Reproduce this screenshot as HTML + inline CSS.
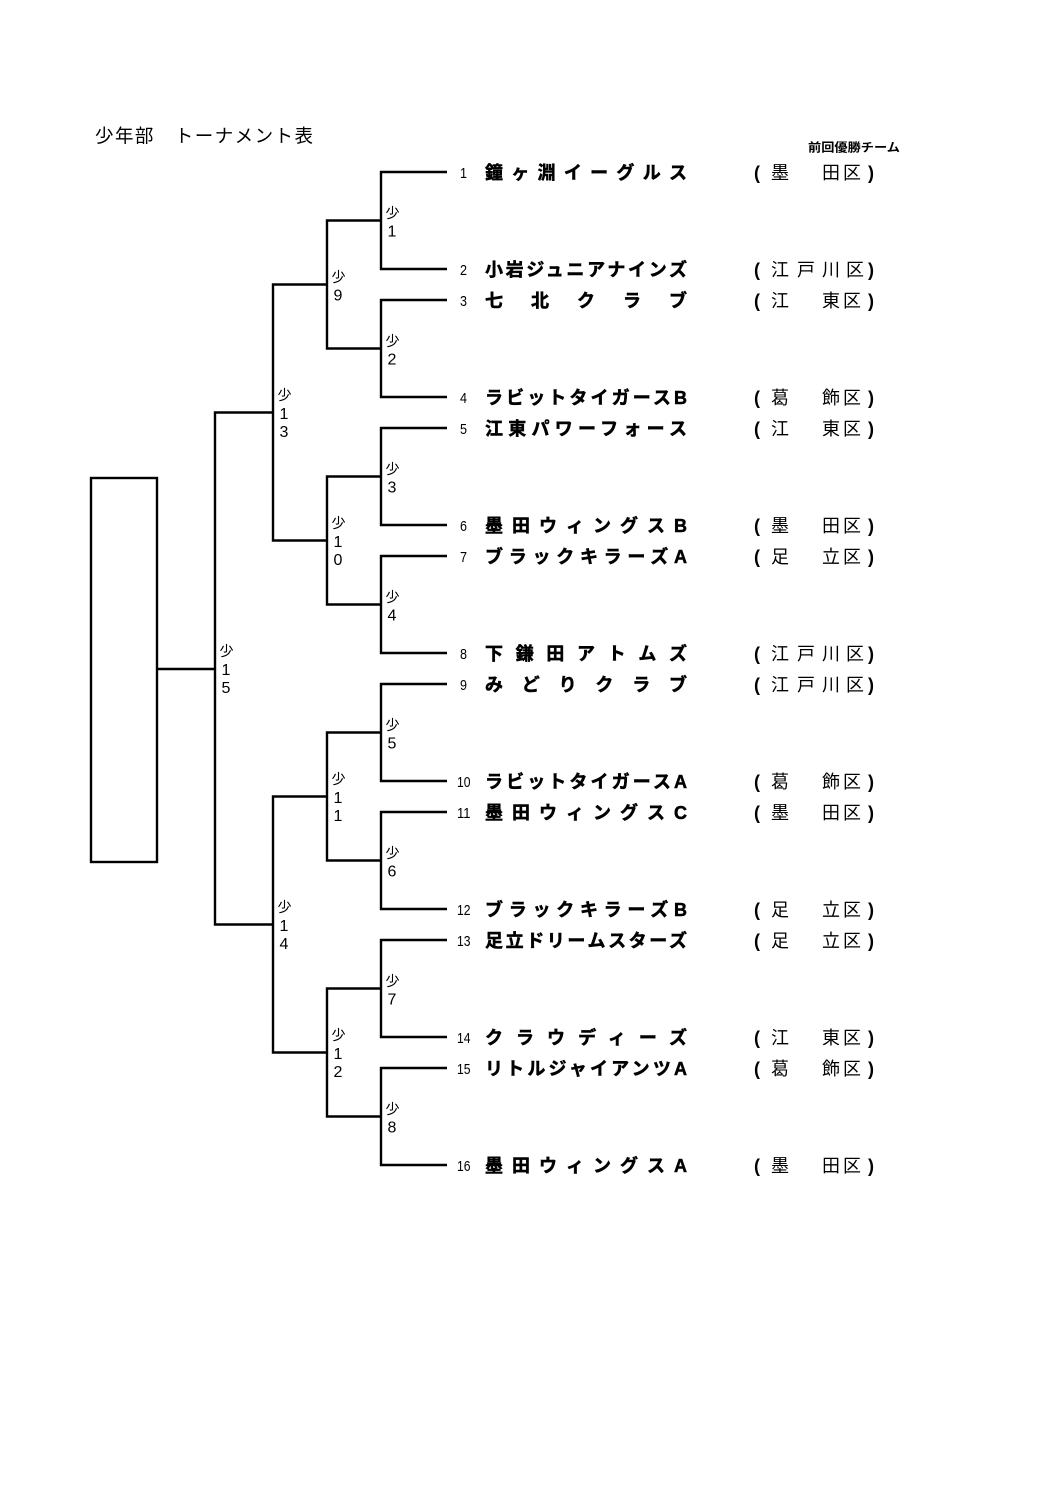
<!DOCTYPE html>
<html>
<head>
<meta charset="utf-8">
<style>
  html,body{margin:0;padding:0;background:#fff;}
  body{width:1058px;height:1497px;overflow:hidden;}
  svg{display:block;}
  .t{font-family:"Liberation Sans","Noto Sans CJK JP",sans-serif;font-size:18.5px;fill:#000;}
  .h{font-family:"Liberation Sans","Noto Sans CJK JP",sans-serif;font-size:12px;font-weight:700;fill:#000;}
  .n{font-family:"Liberation Sans","Noto Sans CJK JP",sans-serif;font-size:18px;font-weight:700;fill:#000;stroke:#000;stroke-width:0.5;}
  .d{font-family:"Liberation Sans","Noto Sans CJK JP",sans-serif;font-size:18px;fill:#000;}
  .d tspan.p{font-weight:700;}
  .num{font-family:"Liberation Sans",sans-serif;font-size:15px;fill:#000;}
  .s{font-family:"Liberation Sans","Noto Sans CJK JP",sans-serif;font-size:14px;fill:#000;text-anchor:middle;}
  .g{font-family:"Liberation Sans",sans-serif;font-size:16px;fill:#000;text-anchor:middle;}
  .ln{fill:none;stroke:#000;stroke-width:2.4;stroke-linejoin:miter;}
</style>
</head>
<body>
<svg width="1058" height="1497" viewBox="0 0 1058 1497" xmlns="http://www.w3.org/2000/svg">
  <rect x="0" y="0" width="1058" height="1497" fill="#fff"/>

  <!-- title -->
  <text class="t" x="95" y="142.5" textLength="218" lengthAdjust="spacing">少年部　トーナメント表</text>
  <text class="h" x="808" y="151.5" textLength="92" lengthAdjust="spacingAndGlyphs">前回優勝チーム</text>

  <!-- bracket lines -->
  <g class="ln">
    <path d="M447 172H381V269H447"/>
    <path d="M447 300H381V397H447"/>
    <path d="M447 428H381V525H447"/>
    <path d="M447 556H381V653H447"/>
    <path d="M447 684H381V781H447"/>
    <path d="M447 812H381V909H447"/>
    <path d="M447 940H381V1037H447"/>
    <path d="M447 1068H381V1165H447"/>

    <path d="M381 220.5H327V348.5H381"/>
    <path d="M381 476.5H327V604.5H381"/>
    <path d="M381 732.5H327V860.5H381"/>
    <path d="M381 988.5H327V1116.5H381"/>

    <path d="M327 284.5H273V540.5H327"/>
    <path d="M327 796.5H273V1052.5H327"/>

    <path d="M273 412.5H215V924.5H273"/>
    <path d="M157 669H215"/>

    <rect x="91" y="478" width="66" height="384"/>
  </g>

  <!-- match labels level 1 -->
  <text class="s" x="392.5" y="218">少</text><text class="g" x="392" y="236.5">1</text>
  <text class="s" x="392.5" y="346">少</text><text class="g" x="392" y="364.5">2</text>
  <text class="s" x="392.5" y="474">少</text><text class="g" x="392" y="492.5">3</text>
  <text class="s" x="392.5" y="602">少</text><text class="g" x="392" y="620.5">4</text>
  <text class="s" x="392.5" y="730">少</text><text class="g" x="392" y="748.5">5</text>
  <text class="s" x="392.5" y="858">少</text><text class="g" x="392" y="876.5">6</text>
  <text class="s" x="392.5" y="986">少</text><text class="g" x="392" y="1004.5">7</text>
  <text class="s" x="392.5" y="1114">少</text><text class="g" x="392" y="1132.5">8</text>

  <!-- level 2 -->
  <text class="s" x="338.5" y="282">少</text><text class="g" x="338" y="300.5">9</text>
  <text class="s" x="338.5" y="528">少</text><text class="g" x="338" y="547.2">1</text><text class="g" x="338" y="565.2">0</text>
  <text class="s" x="338.5" y="784">少</text><text class="g" x="338" y="803.2">1</text><text class="g" x="338" y="821.2">1</text>
  <text class="s" x="338.5" y="1040">少</text><text class="g" x="338" y="1059.2">1</text><text class="g" x="338" y="1077.2">2</text>

  <!-- level 3 -->
  <text class="s" x="284.5" y="400">少</text><text class="g" x="284" y="419.2">1</text><text class="g" x="284" y="437.2">3</text>
  <text class="s" x="284.5" y="912">少</text><text class="g" x="284" y="931.2">1</text><text class="g" x="284" y="949.2">4</text>

  <!-- level 4 -->
  <text class="s" x="226.5" y="656">少</text><text class="g" x="226" y="675.2">1</text><text class="g" x="226" y="693.2">5</text>

  <!-- team numbers -->
  <text class="num" x="460" y="178" textLength="7" lengthAdjust="spacingAndGlyphs">1</text>
  <text class="num" x="460" y="275" textLength="7" lengthAdjust="spacingAndGlyphs">2</text>
  <text class="num" x="460" y="306" textLength="7" lengthAdjust="spacingAndGlyphs">3</text>
  <text class="num" x="460" y="403" textLength="7" lengthAdjust="spacingAndGlyphs">4</text>
  <text class="num" x="460" y="434" textLength="7" lengthAdjust="spacingAndGlyphs">5</text>
  <text class="num" x="460" y="531" textLength="7" lengthAdjust="spacingAndGlyphs">6</text>
  <text class="num" x="460" y="562" textLength="7" lengthAdjust="spacingAndGlyphs">7</text>
  <text class="num" x="460" y="659" textLength="7" lengthAdjust="spacingAndGlyphs">8</text>
  <text class="num" x="460" y="690" textLength="7" lengthAdjust="spacingAndGlyphs">9</text>
  <text class="num" x="457" y="787" textLength="13.5" lengthAdjust="spacingAndGlyphs">10</text>
  <text class="num" x="457" y="818" textLength="13.5" lengthAdjust="spacingAndGlyphs">11</text>
  <text class="num" x="457" y="915" textLength="13.5" lengthAdjust="spacingAndGlyphs">12</text>
  <text class="num" x="457" y="946" textLength="13.5" lengthAdjust="spacingAndGlyphs">13</text>
  <text class="num" x="457" y="1043" textLength="13.5" lengthAdjust="spacingAndGlyphs">14</text>
  <text class="num" x="457" y="1074" textLength="13.5" lengthAdjust="spacingAndGlyphs">15</text>
  <text class="num" x="457" y="1171" textLength="13.5" lengthAdjust="spacingAndGlyphs">16</text>

  <!-- team names -->
  <text class="n" x="485" y="179" textLength="202" lengthAdjust="spacing">鐘ヶ淵イーグルス</text>
  <text class="n" x="485" y="276" textLength="202" lengthAdjust="spacing">小岩ジュニアナインズ</text>
  <text class="n" x="485" y="307" textLength="202" lengthAdjust="spacing">七北クラブ</text>
  <text class="n" x="485" y="404" textLength="202" lengthAdjust="spacing">ラビットタイガースB</text>
  <text class="n" x="485" y="435" textLength="202" lengthAdjust="spacing">江東パワーフォース</text>
  <text class="n" x="485" y="532" textLength="202" lengthAdjust="spacing">墨田ウィングスB</text>
  <text class="n" x="485" y="563" textLength="202" lengthAdjust="spacing">ブラックキラーズA</text>
  <text class="n" x="485" y="660" textLength="202" lengthAdjust="spacing">下鎌田アトムズ</text>
  <text class="n" x="485" y="691" textLength="202" lengthAdjust="spacing">みどりクラブ</text>
  <text class="n" x="485" y="788" textLength="202" lengthAdjust="spacing">ラビットタイガースA</text>
  <text class="n" x="485" y="819" textLength="202" lengthAdjust="spacing">墨田ウィングスC</text>
  <text class="n" x="485" y="916" textLength="202" lengthAdjust="spacing">ブラックキラーズB</text>
  <text class="n" x="485" y="947" textLength="202" lengthAdjust="spacing">足立ドリームスターズ</text>
  <text class="n" x="485" y="1044" textLength="202" lengthAdjust="spacing">クラウディーズ</text>
  <text class="n" x="485" y="1075" textLength="202" lengthAdjust="spacing">リトルジャイアンツA</text>
  <text class="n" x="485" y="1172" textLength="202" lengthAdjust="spacing">墨田ウィングスA</text>

  <!-- districts -->
  <text class="d" y="179"><tspan class="p" x="754">(</tspan><tspan x="771">墨</tspan><tspan x="822">田</tspan><tspan x="843">区</tspan><tspan class="p" x="868">)</tspan></text>
  <text class="d" y="276"><tspan class="p" x="754">(</tspan><tspan x="771">江</tspan><tspan x="797">戸</tspan><tspan x="822">川</tspan><tspan x="846">区</tspan><tspan class="p" x="868">)</tspan></text>
  <text class="d" y="307"><tspan class="p" x="754">(</tspan><tspan x="771">江</tspan><tspan x="822">東</tspan><tspan x="843">区</tspan><tspan class="p" x="868">)</tspan></text>
  <text class="d" y="404"><tspan class="p" x="754">(</tspan><tspan x="771">葛</tspan><tspan x="822">飾</tspan><tspan x="843">区</tspan><tspan class="p" x="868">)</tspan></text>
  <text class="d" y="435"><tspan class="p" x="754">(</tspan><tspan x="771">江</tspan><tspan x="822">東</tspan><tspan x="843">区</tspan><tspan class="p" x="868">)</tspan></text>
  <text class="d" y="532"><tspan class="p" x="754">(</tspan><tspan x="771">墨</tspan><tspan x="822">田</tspan><tspan x="843">区</tspan><tspan class="p" x="868">)</tspan></text>
  <text class="d" y="563"><tspan class="p" x="754">(</tspan><tspan x="771">足</tspan><tspan x="822">立</tspan><tspan x="843">区</tspan><tspan class="p" x="868">)</tspan></text>
  <text class="d" y="660"><tspan class="p" x="754">(</tspan><tspan x="771">江</tspan><tspan x="797">戸</tspan><tspan x="822">川</tspan><tspan x="846">区</tspan><tspan class="p" x="868">)</tspan></text>
  <text class="d" y="691"><tspan class="p" x="754">(</tspan><tspan x="771">江</tspan><tspan x="797">戸</tspan><tspan x="822">川</tspan><tspan x="846">区</tspan><tspan class="p" x="868">)</tspan></text>
  <text class="d" y="788"><tspan class="p" x="754">(</tspan><tspan x="771">葛</tspan><tspan x="822">飾</tspan><tspan x="843">区</tspan><tspan class="p" x="868">)</tspan></text>
  <text class="d" y="819"><tspan class="p" x="754">(</tspan><tspan x="771">墨</tspan><tspan x="822">田</tspan><tspan x="843">区</tspan><tspan class="p" x="868">)</tspan></text>
  <text class="d" y="916"><tspan class="p" x="754">(</tspan><tspan x="771">足</tspan><tspan x="822">立</tspan><tspan x="843">区</tspan><tspan class="p" x="868">)</tspan></text>
  <text class="d" y="947"><tspan class="p" x="754">(</tspan><tspan x="771">足</tspan><tspan x="822">立</tspan><tspan x="843">区</tspan><tspan class="p" x="868">)</tspan></text>
  <text class="d" y="1044"><tspan class="p" x="754">(</tspan><tspan x="771">江</tspan><tspan x="822">東</tspan><tspan x="843">区</tspan><tspan class="p" x="868">)</tspan></text>
  <text class="d" y="1075"><tspan class="p" x="754">(</tspan><tspan x="771">葛</tspan><tspan x="822">飾</tspan><tspan x="843">区</tspan><tspan class="p" x="868">)</tspan></text>
  <text class="d" y="1172"><tspan class="p" x="754">(</tspan><tspan x="771">墨</tspan><tspan x="822">田</tspan><tspan x="843">区</tspan><tspan class="p" x="868">)</tspan></text>
</svg>
</body>
</html>
